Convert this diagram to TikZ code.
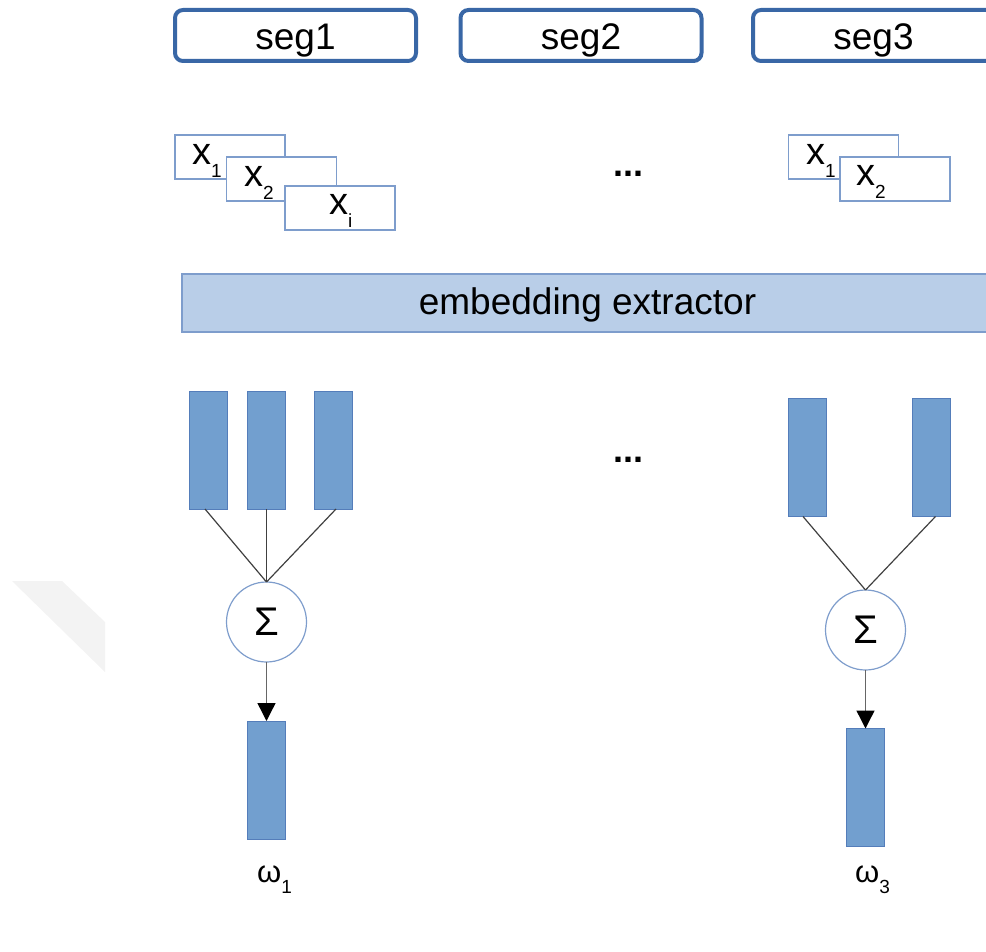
\documentclass[tikz,border=0pt]{standalone}
\usepackage{fontspec}
\setmainfont{Liberation Sans}
\usetikzlibrary{arrows.meta}

\definecolor{segblue}{RGB}{57,103,166}
\definecolor{boxline}{RGB}{126,157,204}
\definecolor{extfill}{RGB}{185,206,232}
\definecolor{barfill}{RGB}{114,159,207}
\definecolor{barline}{RGB}{84,125,186}
\definecolor{wmark}{RGB}{243,243,243}
\definecolor{conn}{RGB}{64,64,64}

% frame label: lowercase x with a lowered index
\newcommand{\framelabel}[1]{{\fontsize{38}{44}\selectfont x}\raisebox{-13pt}{\fontsize{19}{22}\selectfont #1}}
% embedding label: omega with a lowered index
\newcommand{\embedlabel}[1]{{\fontsize{31}{36}\selectfont ω}\raisebox{-11pt}{\fontsize{19}{22}\selectfont #1}}

\begin{document}
\begin{tikzpicture}[x=1pt,y=-1pt,
  segbox/.style={draw=segblue, line width=4pt, rounded corners=8pt, fill=white,
    minimum width=241pt, minimum height=51pt, inner sep=0pt, outer sep=0pt},
  framebox/.style={draw=boxline, line width=1.3pt, fill=white,
    minimum width=110pt, minimum height=44pt, inner sep=0pt, outer sep=0pt},
  extractor/.style={draw=boxline, line width=1.3pt, fill=extfill,
    minimum width=818pt, minimum height=58pt, inner sep=0pt, outer sep=0pt},
  embbar/.style={draw=barline, line width=1pt, fill=barfill,
    minimum width=38pt, minimum height=118pt, inner sep=0pt, outer sep=0pt},
  sumnode/.style={circle, draw=boxline, line width=1.2pt, fill=white,
    minimum size=80pt, inner sep=0pt, outer sep=0pt,
    font=\fontsize{40}{46}\selectfont},
  bigtext/.style={inner sep=0pt, font=\fontsize{37}{44}\selectfont},
  dots/.style={inner sep=0pt, font=\fontsize{36}{42}\selectfont\bfseries},
  wire/.style={draw=conn, line width=1.2pt},
  feed/.style={draw=conn!80, line width=1.4pt,
    -{Triangle[length=18pt,width=18pt,color=black,fill=black]}}
]
\useasboundingbox (0,0) rectangle (986,952);
\clip (0,0) rectangle (986,952);

% faint background mark
\fill[wmark] (12,581) -- (62,581) -- (105,622) -- (105,672) -- cycle;

% segments
\node[segbox] (seg1) at (295.5,35.5) {};
\node[segbox] (seg2) at (581,35.5) {};
\node[segbox] (seg3) at (873.5,35.5) {};
\node[bigtext, anchor=base] (seg1t) at (295.5,50) {seg1};
\node[bigtext, anchor=base] (seg2t) at (581,50) {seg2};
\node[bigtext, anchor=base] (seg3t) at (873.5,50) {seg3};

% frames of the first segment
\node[framebox] (fa1) at (230,157) {};
\node[inner sep=0pt, anchor=base west] (fa1t) at (192,165) {\framelabel{1}};
\node[framebox] (fa2) at (281.5,179) {};
\node[inner sep=0pt, anchor=base west] (fa2t) at (244,187) {\framelabel{2}};
\node[framebox] (fai) at (340,208) {};
\node[inner sep=0pt, anchor=base west] (fait) at (329,215) {\framelabel{i}};

% frames of the last segment
\node[framebox] (fc1) at (843.5,157) {};
\node[inner sep=0pt, anchor=base west] (fc1t) at (806,165) {\framelabel{1}};
\node[framebox] (fc2) at (895,179) {};
\node[inner sep=0pt, anchor=base west] (fc2t) at (856,186) {\framelabel{2}};

\node[dots, anchor=base] (dtop) at (628.5,177) {...};

% extractor
\node[extractor] (ext) at (591,303) {};
\node[bigtext, anchor=base] (extt) at (587.5,315) {embedding extractor};

% frame embeddings, first segment
\node[embbar] (b1) at (208,450) {};
\node[embbar] (b2) at (266.5,450) {};
\node[embbar] (b3) at (333,450) {};
\node[sumnode] (s1) at (266.5,622) {Σ};
\draw[wire] ([xshift=-3pt]b1.south) -- (s1.north);
\draw[wire] (b2.south) -- (s1.north);
\draw[wire] ([xshift=3pt]b3.south) -- (s1.north);
\node[embbar] (o1) at (266.5,780) {};
\draw[feed] (s1.south) -- (o1.north);
\node[inner sep=0pt, anchor=base west] (w1) at (257,882) {\embedlabel{1}};

\node[dots, anchor=base] (dmid) at (628.5,462) {...};

% frame embeddings, last segment
\node[embbar] (b4) at (807,457.5) {};
\node[embbar] (b5) at (931.5,457.5) {};
\node[sumnode] (s3) at (865.5,630) {Σ};
\draw[wire] ([xshift=-4pt]b4.south) -- (s3.north);
\draw[wire] ([xshift=4pt]b5.south) -- (s3.north);
\node[embbar] (o3) at (865.5,787.5) {};
\draw[feed] (s3.south) -- (o3.north);
\node[inner sep=0pt, anchor=base west] (w3) at (855,882) {\embedlabel{3}};
\end{tikzpicture}
\end{document}
